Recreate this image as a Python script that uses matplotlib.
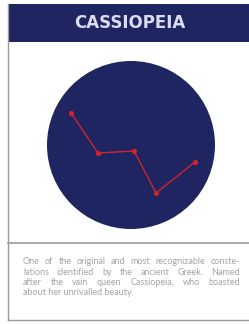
import matplotlib

matplotlib.use("Agg")
import matplotlib.pyplot as plt
from matplotlib.patches import Circle, Rectangle

W, H = 249, 324
NAVY = "#1E2560"
RED = "#D2232F"
GREY = "#A4A4AA"
LINE = "#9A9A9A"

TITLE = "CASSIOPEIA"
# star positions (pixel space, y down)
star_x = [71, 98, 134, 156, 195]
star_y = [113, 153, 151, 193, 162]
DESC = [
    "One of the original and most recognizable conste-",
    "lations identified by the ancient Greek. Named",
    "after the vain queen Cassiopeia, who boasted",
    "about her unrivalled beauty.",
]
FS = 6.5

fig = plt.figure(figsize=(W / 100, H / 100), dpi=100)
fig.patch.set_facecolor("white")
ax = fig.add_axes([0, 0, 1, 1])
ax.set_xlim(0, W)
ax.set_ylim(H, 0)
ax.axis("off")

# card frame
ax.plot([7.5, 7.5], [4, 320], color=LINE, lw=1.0)
ax.plot([7.5, 249], [320, 320], color=LINE, lw=1.0)
ax.plot([7.5, 249], [243, 243], color=LINE, lw=1.2)
ax.add_patch(Rectangle((8, 4), 241, 38, color=NAVY, lw=0))
ax.text(130, 23.5, TITLE, color="#DADDF2", fontsize=12,
        fontweight="bold", ha="center", va="center", family="DejaVu Sans")

# sky disc + constellation
ax.add_patch(Circle((131, 145), 84, color=NAVY, lw=0))
ax.plot(star_x, star_y, color=RED, lw=1.0, zorder=3)
ax.scatter(star_x, star_y, s=14, color=RED, zorder=4, lw=0)

# justified description
fig.canvas.draw()
r = fig.canvas.get_renderer()
inv = ax.transData.inverted()
x0, x1 = 23, 240
for i, ln in enumerate(DESC):
    y = 262 + i * 10.3
    words = ln.split()
    if i == len(DESC) - 1:
        ax.text(x0, y, ln, fontsize=FS, color=GREY, va="center",
                family="Lato")
        continue
    ts = [ax.text(0, y, w, fontsize=FS, color=GREY, va="center",
                  family="Lato") for w in words]
    widths = []
    for t in ts:
        bb = t.get_window_extent(r)
        widths.append(inv.transform((bb.x1, 0))[0]
                      - inv.transform((bb.x0, 0))[0])
    gap = (x1 - x0 - sum(widths)) / (len(words) - 1)
    xx = x0
    for t, wd in zip(ts, widths):
        t.set_x(xx)
        xx += wd + gap

fig.savefig("out.png", dpi=100, facecolor="white")
